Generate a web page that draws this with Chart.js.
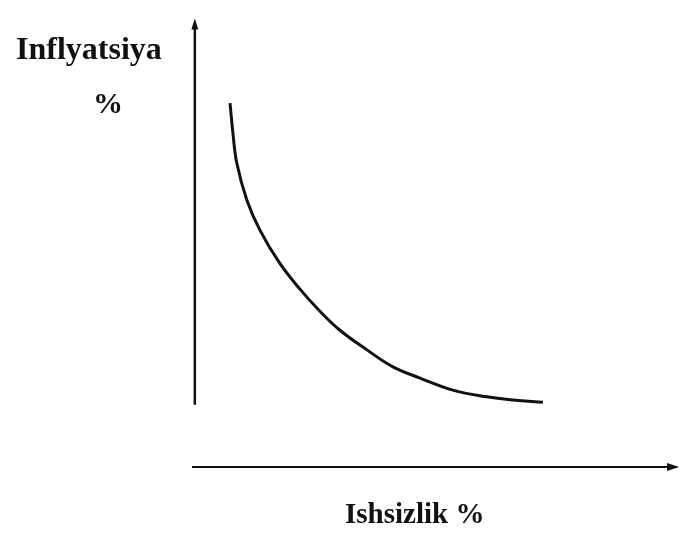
<!DOCTYPE html>
<html>
<head>
<meta charset="utf-8">
<script src="https://cdn.jsdelivr.net/npm/chart.js@4.4.1/dist/chart.umd.min.js"></script>
<style>
  body { margin: 0; background: #fff; }
  #wrap { position: relative; width: 681px; height: 543px; }
  .lbl { position: absolute; font-family: "Liberation Serif", "DejaVu Serif", serif; font-weight: bold; color: #111; line-height: 1; white-space: nowrap; }
</style>
</head>
<body>
<div id="wrap">
  <canvas id="myChart" width="681" height="543"></canvas>
  <div class="lbl" style="left:16px; top:32px; font-size:32px;">Inflyatsiya</div>
  <div class="lbl" style="left:93px; top:88px; font-size:30px;">%</div>
  <div class="lbl" style="left:345px; top:499px; font-size:29px;">Ishsizlik %</div>
</div>
<script>
// Phillips curve: ishsizlik (x) va inflyatsiya (y), shartli birliklarda
var ishsizlik = [0.73, 0.79, 0.87, 1.08, 1.35, 1.76, 2.18, 2.59, 3.01, 3.57, 4.11, 4.67, 5.35, 6.06, 6.60, 7.22];
var inflyatsiya = [8.14, 7.47, 6.80, 5.97, 5.30, 4.56, 3.98, 3.49, 3.06, 2.62, 2.24, 1.99, 1.72, 1.57, 1.50, 1.45];

// axis lines (data units)
var vertAxisX = [0, 0];
var vertAxisY = [1.39, 9.9];
var horAxisX = [-0.06, 10];
var horAxisY = [0, 0];

function toPoints(xs, ys) {
    return xs.map(function(x, i) { return { x: x, y: ys[i] }; });
}

// arrowheads at the end of the axes
var arrowPlugin = {
    id: 'arrows',
    afterDatasetsDraw: function(chart) {
        var ctx = chart.ctx;
        var xs = chart.scales.x, ys = chart.scales.y;
        ctx.save();
        ctx.fillStyle = '#111';
        // top arrow
        var tx = xs.getPixelForValue(vertAxisX[1]);
        var ty = ys.getPixelForValue(vertAxisY[1]);
        ctx.beginPath();
        ctx.moveTo(tx, ty - 6);
        ctx.lineTo(tx - 3.5, ty + 5);
        ctx.lineTo(tx + 3.5, ty + 5);
        ctx.closePath();
        ctx.fill();
        // right arrow
        var rx = xs.getPixelForValue(horAxisX[1]);
        var ry = ys.getPixelForValue(horAxisY[1]);
        ctx.beginPath();
        ctx.moveTo(rx + 2, ry);
        ctx.lineTo(rx - 10, ry - 4);
        ctx.lineTo(rx - 10, ry + 4);
        ctx.closePath();
        ctx.fill();
        ctx.restore();
    }
};

var ctx = document.getElementById('myChart').getContext('2d');
var myChart = new Chart(ctx, {
    type: 'scatter',
    data: {
        datasets: [{
            label: 'Phillips',
            data: toPoints(ishsizlik, inflyatsiya),
            showLine: true,
            borderColor: '#111',
            borderWidth: 3,
            pointRadius: 0,
            tension: 0.4,
            clip: false
        }, {
            label: 'y axis',
            data: toPoints(vertAxisX, vertAxisY),
            showLine: true,
            borderColor: '#111',
            borderWidth: 2.5,
            pointRadius: 0,
            clip: false
        }, {
            label: 'x axis',
            data: toPoints(horAxisX, horAxisY),
            showLine: true,
            borderColor: '#111',
            borderWidth: 2.2,
            pointRadius: 0,
            clip: false
        }]
    },
    options: {
        responsive: false,
        animation: false,
        layout: { padding: { left: 190, right: 4, top: 20, bottom: 76 } },
        plugins: { legend: { display: false }, tooltip: { enabled: false } },
        scales: {
            x: { type: 'linear', min: -0.1, max: 10, display: false },
            y: { type: 'linear', min: 0, max: 10, display: false }
        }
    },
    plugins: [arrowPlugin]
});
</script>
</body>
</html>
